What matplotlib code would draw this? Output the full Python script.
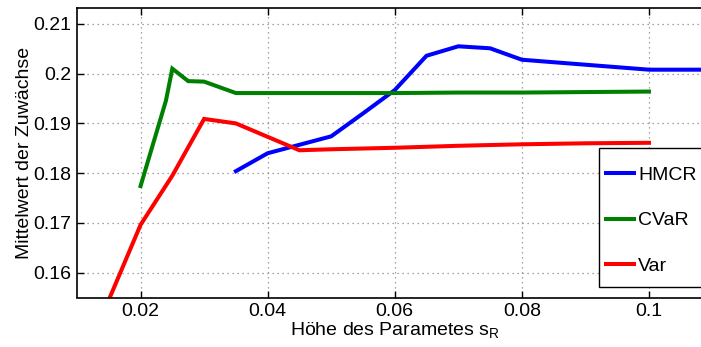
import matplotlib
matplotlib.use("Agg")
import matplotlib.pyplot as plt
from matplotlib.patches import Rectangle

plt.rcParams['font.family'] = ['Liberation Sans', 'DejaVu Sans']
plt.rcParams['mathtext.default'] = 'regular'

# Data
hmcr_x = [0.035, 0.04, 0.045, 0.05, 0.055, 0.06, 0.065, 0.07, 0.075, 0.08, 0.09, 0.1, 0.11]
hmcr_y = [0.1804, 0.1840, 0.1857, 0.1874, 0.1920, 0.1967, 0.2036, 0.2055, 0.2051, 0.2028, 0.2018, 0.2008, 0.2008]

cvar_x = [0.02, 0.024, 0.025, 0.0275, 0.03, 0.035, 0.04, 0.05, 0.06, 0.07, 0.08, 0.09, 0.1]
cvar_y = [0.1774, 0.1946, 0.2010, 0.1985, 0.1984, 0.1961, 0.1961, 0.1961, 0.1961, 0.1962, 0.1962, 0.1963, 0.1964]

var_x = [0.015, 0.02, 0.025, 0.03, 0.035, 0.04, 0.045, 0.05, 0.06, 0.07, 0.08, 0.09, 0.1]
var_y = [0.1545, 0.1696, 0.1795, 0.1909, 0.1900, 0.1873, 0.1846, 0.1848, 0.1851, 0.1855, 0.1858, 0.1860, 0.1861]

labels = ['HMCR', 'CVaR', 'Var']
colors = ['#0000ff', '#008000', '#ff0000']

x_ticks = [0.02, 0.04, 0.06, 0.08, 0.1]
x_ticklabels = ['0.02', '0.04', '0.06', '0.08', '0.1']
y_ticks = [0.16, 0.17, 0.18, 0.19, 0.2, 0.21]
y_ticklabels = ['0.16', '0.17', '0.18', '0.19', '0.2', '0.21']

W, H = 701, 347
fs = 14
fig = plt.figure(figsize=(W / 100, H / 100), dpi=100)
ax = fig.add_axes([77 / W, 1 - 297.5 / H, (712.5 - 77) / W, (297.5 - 8) / H])

lw = 2.9
for xs, ys, c, lab in zip([hmcr_x, cvar_x, var_x], [hmcr_y, cvar_y, var_y], colors, labels):
    ax.plot(xs, ys, color=c, lw=lw, label=lab, solid_joinstyle='miter')

ax.set_xlim(0.01, 0.11)
ax.set_ylim(0.1550, 0.2132)
ax.set_xticks(x_ticks)
ax.set_xticklabels(x_ticklabels)
ax.set_yticks(y_ticks)
ax.set_yticklabels(y_ticklabels)
ax.tick_params(direction='in', length=5, width=1, labelsize=fs, top=True, right=True, pad=4)
ax.grid(True, linestyle=(0, (1, 3)), color='#888888', linewidth=0.9)
for s in ax.spines.values():
    s.set_linewidth(1.2)

ax.set_xlabel('Höhe des Parametes $s_R$', fontsize=fs, labelpad=0)
ax.set_ylabel('Mittelwert der Zuwächse', fontsize=fs, labelpad=0)

# legend frame (drawn separately so the padding matches the reference)
frame = Rectangle((599 / W, 1 - 287 / H), (716 - 599) / W, (287 - 148) / H,
                  transform=fig.transFigure, facecolor='white', edgecolor='black',
                  linewidth=1.0, zorder=4, clip_on=False)
ax.add_patch(frame)

leg = ax.legend(loc='upper left', bbox_to_anchor=(606 / W, 1 - 166 / H),
                bbox_transform=fig.transFigure, fontsize=fs, frameon=False,
                handlelength=1.44, handletextpad=0.22, labelspacing=1.45,
                borderaxespad=0, borderpad=0)
leg.set_zorder(6)

fig.savefig('out.png', dpi=100)
